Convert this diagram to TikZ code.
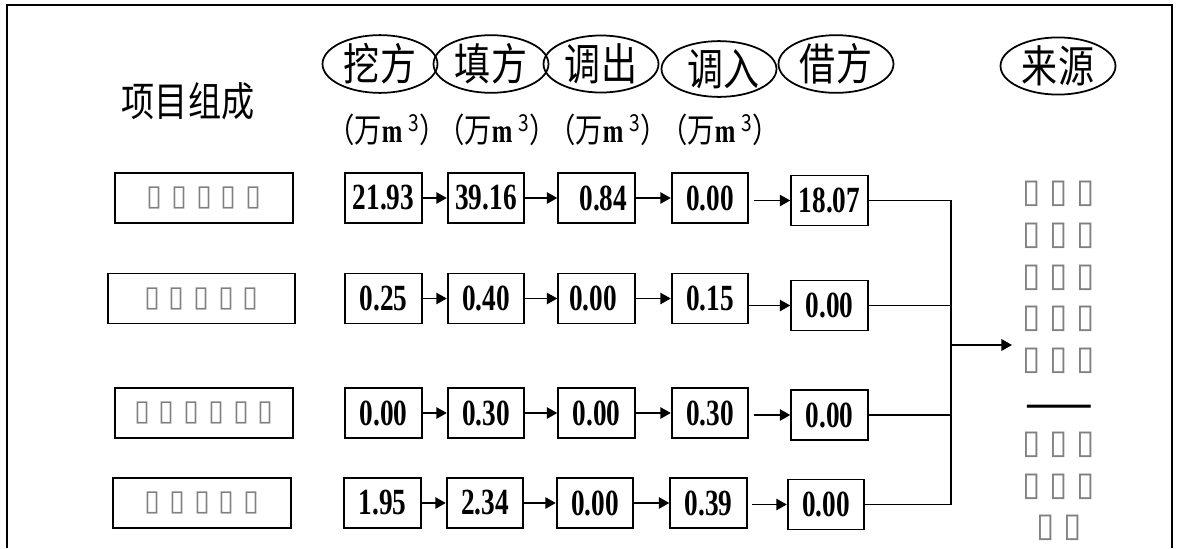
\documentclass[tikz,border=0pt]{standalone}
\usepackage{fontspec}
\setmainfont{Liberation Serif}
\newfontfamily\cjkfont[FakeStretch=0.82]{Noto Sans CJK SC}
\newfontfamily\numfont[FakeStretch=0.74]{Liberation Serif}
\newfontfamily\boxfont{DejaVu Sans}
\usetikzlibrary{shapes.geometric,arrows.meta}

\tikzset{
  headoval/.style={draw,ellipse,line width=1pt,minimum width=2.3cm,minimum height=1cm,inner sep=0pt,font=\cjkfont\fontsize{25}{26}\selectfont},
  unitlab/.style={inner sep=0pt,font=\cjkfont\fontsize{19}{20}\selectfont},
  itembox/.style={draw,line width=1.1pt,minimum width=3.56cm,minimum height=1cm,inner sep=0pt,text=gray,font=\boxfont\fontsize{16.5}{18}\selectfont},
  valbox/.style={draw,line width=1.1pt,minimum width=1.53cm,minimum height=1cm,inner sep=0pt,font=\numfont\bfseries\fontsize{21}{22}\selectfont},
  arr/.style={line width=1pt,-{Triangle[length=6pt,width=6.5pt]}},
  bus/.style={line width=1pt}
}
\newcommand\unitm{（万{\numfont\bfseries m}\,\textsuperscript{3}）}
\newcommand\tfsep{\hspace{5pt}}

\begin{document}
\begin{tikzpicture}[x=0.02cm,y=-0.02cm]
  \useasboundingbox (0,0) rectangle (1177,548);

  % outer frame, open at the bottom
  \draw[line width=1.4pt] (7,548) -- (7,5) -- (1172,5) -- (1172,548);

  % headings
  \node[font=\cjkfont\fontsize{23}{24}\selectfont] (title) at (188,101) {项目组成};
  \node[headoval] (wa) at (380,64) {挖方};
  \node[headoval] (tian) at (491,64) {填方};
  \node[headoval] (chu) at (601,64) {调出};
  \node[headoval] (ru) at (719,69) {\ 调入};
  \node[headoval] (jie) at (836,64) {借方};
  \node[headoval] (ly) at (1058,66) {来源};
  \node[unitlab] (u1) at (387,130) {\unitm};
  \node[unitlab] (u2) at (497,130) {\unitm};
  \node[unitlab] (u3) at (608,130) {\unitm};
  \node[unitlab] (u4) at (720,130) {\unitm};

  % row 1
  \node[itembox] (item1) at (204,198) {▯\tfsep▯\tfsep▯\tfsep▯\tfsep▯};
  \node[valbox] (v11) at (383.5,198) {21.93};
  \node[valbox] (v12) at (486,198) {39.16};
  \node[valbox] (v13) at (596.5,198) {\ \ 0.84};
  \node[valbox] (v14) at (710,198) {0.00};
  \node[valbox] (v15) at (829.5,200.5) {18.07};
  \draw[arr] (v11) -- (v12);
  \draw[arr] (v12) -- (v13);
  \draw[arr] (v13) -- (v14);
  \draw[arr,shorten <=2.5pt] (v14.east |- v15.west) -- (v15.west);

  % row 2
  \node[itembox,minimum width=3.74cm] (item2) at (201.5,298.5) {▯\tfsep▯\tfsep▯\tfsep▯\tfsep▯};
  \node[valbox] (v21) at (383.5,298.5) {0.25};
  \node[valbox] (v22) at (486,298.5) {0.40};
  \node[valbox] (v23) at (596.5,298.5) {0.00\ \ };
  \node[valbox] (v24) at (710,298.5) {0.15};
  \node[valbox] (v25) at (829.5,305.5) {0.00};
  \draw[arr] (v21) -- (v22);
  \draw[arr] (v22) -- (v23);
  \draw[arr] (v23) -- (v24);
  \draw[arr] (v24.east |- v25.west) -- (v25.west);

  % row 3
  \node[itembox] (item3) at (204,413) {▯\tfsep▯\tfsep▯\tfsep▯\tfsep▯\tfsep▯};
  \node[valbox] (v31) at (383.5,413) {0.00};
  \node[valbox] (v32) at (486,413) {0.30};
  \node[valbox] (v33) at (596.5,413) {0.00};
  \node[valbox] (v34) at (710,413) {0.30};
  \node[valbox] (v35) at (829.5,415) {0.00};
  \draw[arr] (v31) -- (v32);
  \draw[arr] (v32) -- (v33);
  \draw[arr] (v33) -- (v34);
  \draw[arr,shorten <=2.5pt] (v34.east |- v35.west) -- (v35.west);

  % row 4
  \node[itembox] (item4) at (202,503) {▯\tfsep▯\tfsep▯\tfsep▯\tfsep▯};
  \node[valbox] (v41) at (382.5,503) {1.95};
  \node[valbox] (v42) at (485,503) {2.34};
  \node[valbox] (v43) at (595,503) {0.00};
  \node[valbox] (v44) at (708.5,503) {0.39};
  \node[valbox] (v45) at (826,504.5) {0.00};
  \draw[arr] (v41) -- (v42);
  \draw[arr] (v42) -- (v43);
  \draw[arr] (v43) -- (v44);
  \draw[arr,shorten <=2.5pt] (v44.east |- v45.west) -- (v45.west);

  % collecting line to the sources
  \coordinate (bus) at (951,345);
  \coordinate (srcin) at (1012,345);
  \draw[bus] (v15.east) -- (v15.east -| bus) -- (v45.east -| bus) -- (v45.east);
  \draw[bus] (v25.east) -- (v25.east -| bus);
  \draw[bus] (v35.east) -- (v35.east -| bus);
  \draw[arr] (bus) -- (srcin);
  \node[align=center,text=gray,font=\boxfont\fontsize{19}{23.8}\selectfont] (src) at (1059,361)
    {▯\tfsep▯\tfsep▯\\▯\tfsep▯\tfsep▯\\▯\tfsep▯\tfsep▯\\▯\tfsep▯\tfsep▯\\▯\tfsep▯\tfsep▯\\
     \raisebox{-5pt}{\cjkfont\fontsize{28}{23.8}\selectfont\color{black}——}\\
     ▯\tfsep▯\tfsep▯\\▯\tfsep▯\tfsep▯\\▯\tfsep▯};

\end{tikzpicture}
\end{document}
